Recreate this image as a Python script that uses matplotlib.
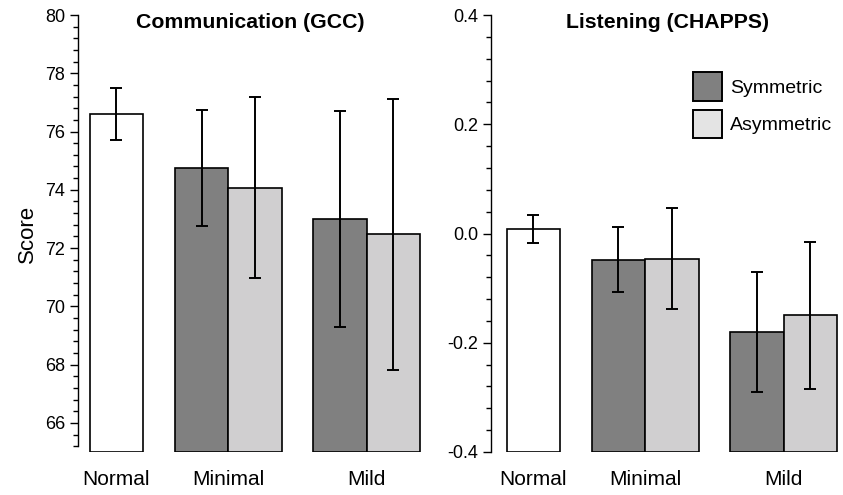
import matplotlib
matplotlib.use("Agg")
import matplotlib.pyplot as plt
from matplotlib.ticker import MultipleLocator, FuncFormatter
from matplotlib.patches import Patch

plt.rcParams['font.family'] = ['Liberation Sans', 'DejaVu Sans']

groups = ["Normal", "Minimal", "Mild"]
series = ["Symmetric", "Asymmetric"]

# Communication (GCC)
gcc_normal = 76.6
gcc_normal_err = 0.88
gcc_sym = [74.75, 73.0]
gcc_sym_err = [2.0, 3.7]
gcc_asym = [74.07, 72.47]
gcc_asym_err = [3.1, 4.65]

# Listening (CHAPPS)
ch_normal = 0.008
ch_normal_err = 0.025
ch_sym = [-0.048, -0.181]
ch_sym_err = [0.059, 0.11]
ch_asym = [-0.046, -0.150]
ch_asym_err = [0.092, 0.134]

W, H = 843, 495
fig = plt.figure(figsize=(W / 100, H / 100), dpi=100)

ybot = 1 - 452 / H
yh = (452 - 15) / H

bw = 1.0
gap = 0.59
x_normal = 0.5
x_sym = [1 + gap + 0.5, 1 + gap + 2 + gap + 0.5]
x_asym = [x + 1 for x in x_sym]
x_labels = [x_normal, x_sym[0] + 0.5, x_sym[1] + 0.5]

col_sym = "#808080"
col_asym = "#d0cfd0"
col_asym_leg = "#e4e4e4"
ekw = dict(ecolor="black", elinewidth=1.4, capsize=4.5, capthick=1.4)


def panel(ax, normal, normal_err, sym, sym_err, asym, asym_err, ylim, major, minor, spine_lo):
    base = ylim[0]
    ax.bar([x_normal], [normal - base], bottom=base, width=bw, color="white",
           edgecolor="black", linewidth=1.2, zorder=2)
    ax.bar(x_sym, [v - base for v in sym], bottom=base, width=bw, color=col_sym,
           edgecolor="black", linewidth=1.2, zorder=2)
    ax.bar(x_asym, [v - base for v in asym], bottom=base, width=bw, color=col_asym,
           edgecolor="black", linewidth=1.2, zorder=2)
    ax.errorbar([x_normal], [normal], yerr=[normal_err], fmt="none", zorder=3, **ekw)
    ax.errorbar(x_sym, sym, yerr=sym_err, fmt="none", zorder=3, **ekw)
    ax.errorbar(x_asym, asym, yerr=asym_err, fmt="none", zorder=3, **ekw)
    ax.set_ylim(*ylim)
    ax.yaxis.set_major_locator(MultipleLocator(major))
    ax.yaxis.set_minor_locator(MultipleLocator(minor))
    for s in ["top", "right", "bottom"]:
        ax.spines[s].set_visible(False)
    ax.spines["left"].set_bounds(spine_lo, ylim[1])
    ax.spines["left"].set_linewidth(1.0)
    ax.tick_params(axis="y", which="major", length=6, width=1.0, labelsize=13, pad=3)
    ax.tick_params(axis="y", which="minor", length=3.5, width=1.0)
    ax.set_xticks(x_labels)
    ax.set_xticklabels(groups, fontsize=15)
    ax.tick_params(axis="x", length=0, pad=13)


ax1 = fig.add_axes([78 / W, ybot, 347 / W, yh])
ax1.set_xlim(-0.22, 6.27)
panel(ax1, gcc_normal, gcc_normal_err, gcc_sym, gcc_sym_err, gcc_asym, gcc_asym_err,
      (65, 80), 2, 0.4, 65.2)
ax1.set_ylabel("Score", fontsize=16, labelpad=5)

ax2 = fig.add_axes([491 / W, ybot, 350 / W, yh])
ax2.set_xlim(-0.29, 6.25)
panel(ax2, ch_normal, ch_normal_err, ch_sym, ch_sym_err, ch_asym, ch_asym_err,
      (-0.4, 0.4), 0.2, 0.04, -0.4)
ax2.yaxis.set_major_formatter(FuncFormatter(lambda v, p: f"{v:.1f}".replace("-0.0", "0.0")))

fig.text(250 / W, 1 - 22 / H, "Communication (GCC)", fontsize=15.3, fontweight="bold",
         ha="center", va="center")
fig.text(667 / W, 1 - 22 / H, "Listening (CHAPPS)", fontsize=15.3, fontweight="bold",
         ha="center", va="center")

handles = [Patch(facecolor=col_sym, edgecolor="black", linewidth=1.4),
           Patch(facecolor=col_asym_leg, edgecolor="black", linewidth=1.4)]
ax2.legend(handles, series, loc="upper left",
           bbox_to_anchor=((693 - 491) / 350, (452 - 72) / 437), frameon=False,
           fontsize=14, handlelength=1.5, handleheight=1.9, handletextpad=0.4,
           labelspacing=0.45, borderaxespad=0, borderpad=0)

fig.savefig("out.png", dpi=100)
